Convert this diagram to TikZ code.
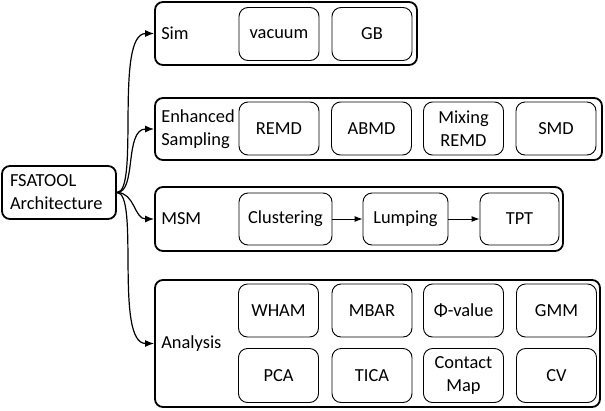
\documentclass[tikz,border=0pt]{standalone}
\usepackage{fontspec}
\setmainfont{Carlito}
\usetikzlibrary{arrows.meta}
\begin{document}
\begin{tikzpicture}[x=1pt,y=-1pt,
		every node/.style={font=\fontsize{18.4}{23}\selectfont, inner sep=0pt},
		outerbox/.style={draw, rounded corners=8pt, line width=1.8pt},
		innerbox/.style={draw, rounded corners=9pt, line width=0.9pt, align=center, minimum width=80pt, minimum height=53pt},
		lbl/.style={anchor=west, align=left},
		link/.style={-{Latex[length=9pt,width=7pt]}, line width=1.2pt},
		chain/.style={-{Latex[length=8pt,width=6pt]}, line width=0.9pt}]
		\useasboundingbox (0,0) rectangle (605,410);
		% root
		\node [outerbox, text width=98pt, inner xsep=8pt, minimum height=53pt, align=left] (fsa) at (59,192.5) {FSATOOL\\Architecture};
		% group frames
		\node [outerbox, minimum width=262pt, minimum height=63pt] (sim) at (286,33.5) {};
		\node [outerbox, minimum width=447pt, minimum height=62pt] (enh) at (378.5,129) {};
		\node [outerbox, minimum width=408pt, minimum height=64pt] (msm) at (359,219) {};
		\node [outerbox, minimum width=445pt, minimum height=127pt] (ana) at (377.5,343.5) {};
		\node [lbl] at ([xshift=7pt]sim.west) {Sim};
		\node [lbl] at ([xshift=7pt]enh.west) {Enhanced\\Sampling};
		\node [lbl] at ([xshift=7pt]msm.west) {MSM};
		\node [lbl] at ([xshift=7pt]ana.west) {Analysis};
		% Sim
		\node [innerbox] (vac) at (279,34) {vacuum};
		\node [innerbox] (gb) at (372,34) {GB};
		% Enhanced Sampling
		\node [innerbox] (remd) at (279,128.5) {REMD};
		\node [innerbox] (abmd) at (371.5,128.5) {ABMD};
		\node [innerbox] (mix) at (463.5,128.5) {Mixing\\REMD};
		\node [innerbox] (smd) at (556,128.5) {SMD};
		% MSM
		\node [innerbox, minimum width=93pt, minimum height=52pt] (clu) at (285.5,219) {Clustering};
		\node [innerbox, minimum width=85pt, minimum height=52pt] (lum) at (405.5,219) {Lumping};
		\node [innerbox, minimum width=79pt, minimum height=52pt] (tpt) at (519.5,219) {TPT};
		\draw [chain] (clu) -- (lum);
		\draw [chain] (lum) -- (tpt);
		% Analysis
		\node [innerbox] (wham) at (278.5,310.5) {WHAM};
		\node [innerbox] (mbar) at (372,310.5) {MBAR};
		\node [innerbox] (phi) at (463.5,310.5) {Φ-value};
		\node [innerbox] (gmm) at (556.5,310.5) {GMM};
		\node [innerbox, minimum height=54pt] (pca) at (278.5,375.5) {PCA};
		\node [innerbox, minimum height=54pt] (tica) at (372,375.5) {TICA};
		\node [innerbox, minimum height=54pt] (cmap) at (463.5,375.5) {Contact\\Map};
		\node [innerbox, minimum height=54pt] (cv) at (556.5,375.5) {CV};
		% links from root
		\draw [link] (fsa.east) .. controls +(23,0) and +(-40,0) .. (sim.west);
		\draw [link] (fsa.east) .. controls +(20,0) and +(-30,0) .. (enh.west);
		\draw [link] (fsa.east) .. controls +(18,0) and +(-20,0) .. (msm.west);
		\draw [link] (fsa.east) .. controls +(23,0) and +(-40,0) .. (ana.west);
	\end{tikzpicture}
\end{document}
